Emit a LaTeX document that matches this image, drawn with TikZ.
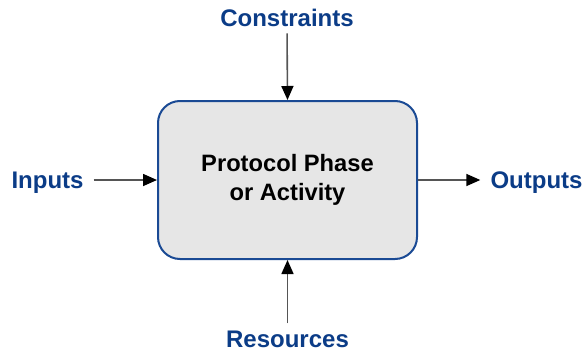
\documentclass[tikz,border=0pt]{standalone}
\usepackage{fontspec}
\setmainfont{Liberation Sans}
\usetikzlibrary{arrows.meta}
\definecolor{lblue}{HTML}{0B3C87}
\definecolor{bborder}{HTML}{1A4A94}
\definecolor{bfill}{HTML}{E6E6E6}
\definecolor{agray}{HTML}{555555}
\tikzset{
  lbl/.style={inner sep=0pt, anchor=base, text=lblue, font=\fontsize{24}{28}\selectfont\bfseries},
  mainbox/.style={draw=bborder, line width=2pt, fill=bfill, rounded corners=22pt,
    minimum width=259pt, minimum height=158pt, inner sep=0pt, align=center,
    font=\fontsize{23.7}{28.5}\selectfont\bfseries},
  flow/.style={draw=agray, line width=1.6pt, -{Triangle[length=14pt,width=12pt,color=black]}}
}
\begin{document}
\begin{tikzpicture}[x=1pt,y=1pt]
\useasboundingbox (0,0) rectangle (583,-351);
\node[mainbox] (box) at (287.5,-180) {Protocol Phase\\or Activity};
\node[lbl] (cons) at (287,-26) {Constraints};
\node[lbl] (inp) at (47.5,-188) {Inputs};
\node[lbl] (outp) at (536.5,-188) {Outputs};
\node[lbl] (res) at (287.5,-347) {Resources};
\draw[flow, shorten <=7pt] (cons.south) -- (box.north);
\draw[flow, shorten <=10pt] (inp.east |- box.west) -- (box.west);
\draw[flow, shorten >=10pt] (box.east) -- (outp.west |- box.east);
\draw[flow, shorten <=7pt] (res.north) -- (res.north |- box.south);
\end{tikzpicture}
\end{document}
